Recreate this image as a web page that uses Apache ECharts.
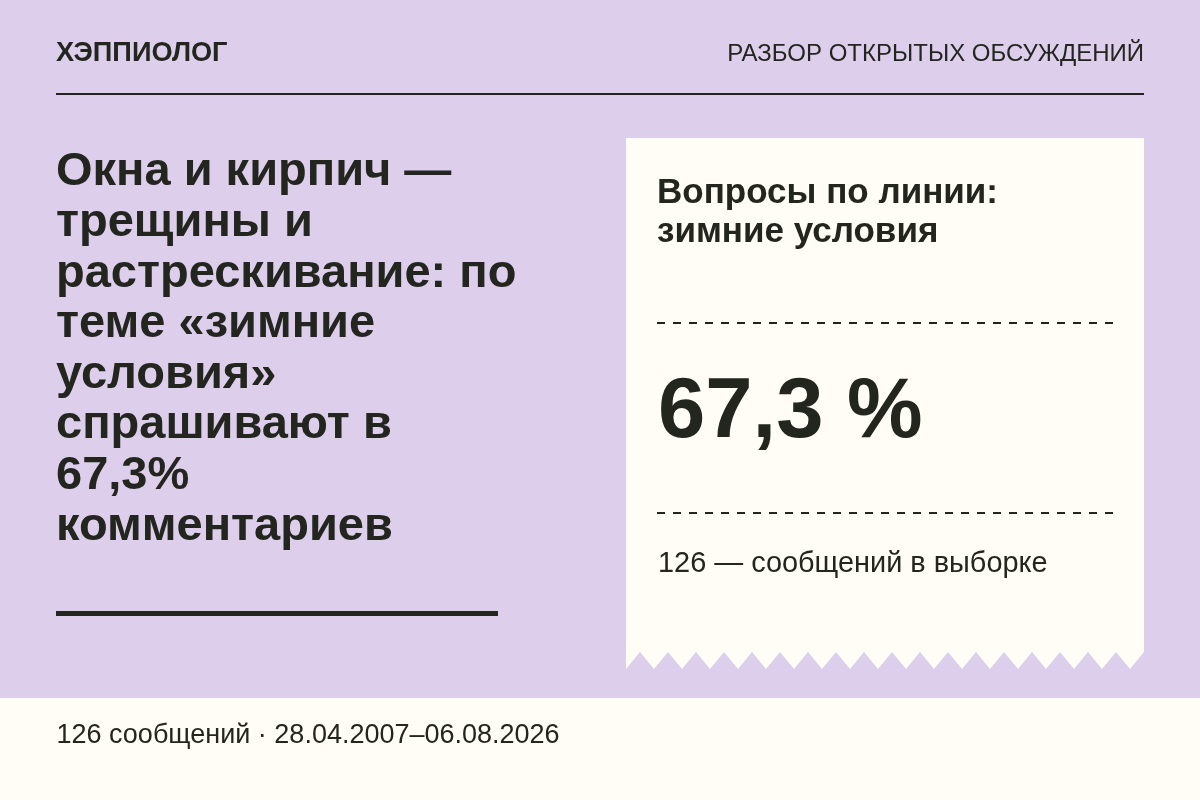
<!DOCTYPE html>
<html><head><meta charset="utf-8">
<style>html,body{margin:0;padding:0;background:#DDCFEC}#c{width:1200px;height:800px}</style>
<script src="https://cdn.jsdelivr.net/npm/echarts@6/dist/echarts.min.js"></script>
</head><body><div id="c"></div>
<script>
var brand = 'ХЭППИОЛОГ';
var kicker = 'РАЗБОР ОТКРЫТЫХ ОБСУЖДЕНИЙ';
var titleLines = ['Окна и кирпич —','трещины и','растрескивание: по','теме «зимние','условия»','спрашивают в','67,3%','комментариев'];
var cardTitleLines = ['Вопросы по линии:','зимние условия'];
var shareLabel = '67,3 %';
var sampleLabel = '126 — сообщений в выборке';
var footerLabel = '126 сообщений · 28.04.2007–06.08.2026';

var FONT = '"Liberation Sans", Arial, sans-serif';
var BG = '#DDCFEC', CREAM = '#FFFDF5', INK = '#23251F';
var chart = echarts.init(document.getElementById('c'), null, {renderer:'canvas'});

function txt(x, base, s, size, weight, align){
  return {type:'text', x:x, y:base - 0.83*size, style:{text:s, font:(weight||'normal')+' '+size+'px '+FONT, fill:INK,
    textAlign:align||'left', textVerticalAlign:'top'}, silent:true};
}
function line(x1,y1,x2,y2,w,dash){
  return {type:'line', shape:{x1:x1,y1:y1,x2:x2,y2:y2}, silent:true,
    style:{stroke:INK, lineWidth:w, lineDash:dash||null}};
}
var pts = [[626,138],[1144,138],[1144,652]];
for (var x = 1130; x >= 626; x -= 28) { pts.push([x,669]); if (x-14 > 626) pts.push([x-14,652]); }

var els = [
  {type:'rect', shape:{x:0,y:0,width:1200,height:800}, style:{fill:BG}, silent:true},
  {type:'rect', shape:{x:0,y:698,width:1200,height:102}, style:{fill:CREAM}, silent:true},
  txt(56,63,brand,27.2,'bold'),
  txt(1144,62,kicker,24,'normal','right'),
  line(56,94,1144,94,2),
  {type:'polygon', shape:{points:pts}, style:{fill:CREAM}, silent:true},
  line(56,613.5,498,613.5,5),
  line(657,323,1114,323,2,[8,8]),
  line(657,513,1114,513,2,[8,8]),
  txt(658,442,shareLabel,85,'bold'),
  txt(658,574,sampleLabel,28.9),
  txt(56.5,744.5,footerLabel,27)
];
titleLines.forEach(function(s,i){ els.push(txt(56,188+i*50.6,s,47,'bold')); });
cardTitleLines.forEach(function(s,i){ els.push(txt(657,205+i*39.2,s,35,'bold')); });

chart.setOption({animation:false, graphic:{elements:els}});
</script></body></html>
